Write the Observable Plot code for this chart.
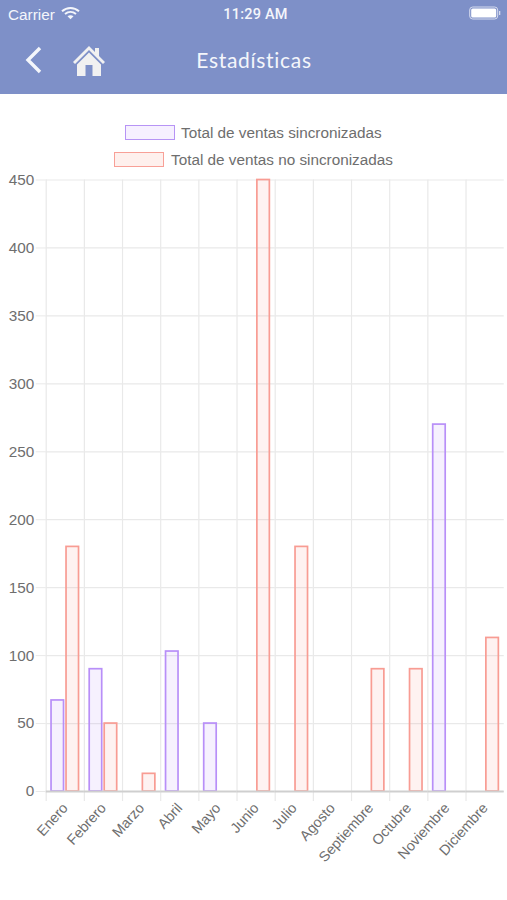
<!DOCTYPE html>
<html lang="es">
<head>
<meta charset="utf-8">
<title>Estadísticas</title>
<script src="https://cdn.jsdelivr.net/npm/d3@7"></script>
<script src="https://cdn.jsdelivr.net/npm/@observablehq/plot@0.6"></script>
<style>
html,body{margin:0;padding:0;background:#fff;}
body{position:relative;width:507px;height:900px;overflow:hidden;font-family:"Liberation Sans",sans-serif;}
#bar{position:absolute;left:0;top:0;width:507px;height:94px;background:#7e90c8;color:#f4f6fb;}
#bar span,#bar svg{position:absolute;}
.carrier{left:8px;top:6px;font-size:15.3px;}
.time{left:0;width:511px;text-align:center;top:6px;font-size:14.5px;font-family:Roboto,sans-serif;font-weight:500;letter-spacing:.2px;}
.titulo{left:0;width:508px;text-align:center;top:47px;font-family:Lato,sans-serif;font-size:21px;letter-spacing:.7px;}
.lg{position:absolute;font-size:15.3px;color:#6e6e6e;white-space:nowrap;line-height:16px;}
.lg i{position:absolute;left:0;top:0;width:47.5px;height:13px;border:1.8px solid;}
.lg b{position:absolute;top:0;font-weight:normal;}
#chart{position:absolute;left:0;top:170px;}
#chart svg{display:block;}
</style>
</head>
<body>
<div id="bar">
  <span class="carrier">Carrier</span>
  <svg style="left:61px;top:6px" width="19" height="14" viewBox="0 0 19 14"><path d="M1 5.2C6 .8 13 .8 18 5.2M4 8C7.3 5.3 11.700 5.300 15 8" fill="none" stroke="#f4f6fb" stroke-width="2"/><path d="M6.500 10.200C8.300 8.900 10.700 8.900 12.500 10.200L9.500 13.200Z" fill="#f4f6fb"/></svg>
  <span class="time">11:29 AM</span>
  <svg style="left:469px;top:6px" width="32" height="15" viewBox="0 0 32 15"><rect x=".7" y="1" width="28" height="12" rx="3" fill="none" stroke="#d5dbee" stroke-width="1"/><rect x="2.200" y="2.500" width="25" height="9" rx="1.500" fill="#fff"/><rect x="30" y="5" width="1.300" height="4" fill="#d5dbee"/></svg>
  <svg style="left:22px;top:44px" width="24" height="32" viewBox="0 0 24 32"><path d="M18 4L6 16L18 28" fill="none" stroke="#f4f6fb" stroke-width="3.400"/></svg>
  <svg style="left:72px;top:44px" width="34" height="33" viewBox="0 0 34 33"><path d="M17 2L1 18L3 20L17 6L31 20L33 18L27 12V4H23V8Z" fill="#f1f1f1"/><path d="M5 20.500L17 8.500L29 20.500V32H20.500V21H13.500V32H5Z" fill="#f1f1f1"/></svg>
  <span class="titulo">Estadísticas</span>
</div>
<div class="lg" style="left:125px;top:125px"><i style="border-color:#b794f5;background:#f6f0ff"></i><b style="left:56px">Total de ventas sincronizadas</b></div>
<div class="lg" style="left:114px;top:152px"><i style="border-color:#f8a097;background:#fef0ed"></i><b style="left:57px">Total de ventas no sincronizadas</b></div>
<div id="chart"></div>
<script>
const meses = ["Enero","Febrero","Marzo","Abril","Mayo","Junio","Julio","Agosto","Septiembre","Octubre","Noviembre","Diciembre"];
const sincronizadas = [67,90,0,103,50,0,0,0,0,0,270,0];
const noSincronizadas = [180,50,13,0,0,450,180,0,90,90,0,113];
const series = ["Total de ventas sincronizadas","Total de ventas no sincronizadas"];
const colores = ["#b88ff8","#f89c93"];
const yTicks = [0,50,100,150,200,250,300,350,400,450];

const filas = meses.flatMap((mes,i)=>[
  {mes, serie:series[0], valor:sincronizadas[i]},
  {mes, serie:series[1], valor:noSincronizadas[i]}
]).filter(d=>d.valor>0);

const GRID="#e9e9e9";
const chart = Plot.plot({
  width:507,
  height:730,
  marginLeft:45.7,
  marginRight:3.3,
  marginTop:9.5,
  marginBottom:109,
  style:{background:"transparent",fontFamily:"'Liberation Sans',sans-serif",fontSize:"15.3px",color:"#6e6e6e",overflow:"visible"},
  fx:{domain:meses,paddingInner:0,paddingOuter:0,round:false,label:null,axis:null},
  x:{domain:series,paddingInner:0.167,paddingOuter:0.356,round:false,label:null,axis:null},
  y:{domain:[0,450],label:null,axis:null},
  color:{domain:series,range:colores},
  marks:[
    Plot.ruleY(yTicks,{stroke:GRID,strokeWidth:1.2}),
    Plot.ruleX(meses,{fx:d=>d,x:()=>series[0],dx:-11.59,y1:450,y2:0,insetBottom:-10,stroke:GRID,strokeWidth:1.2}),
    Plot.barY(filas,{fx:"mes",x:"serie",y:"valor",fill:"serie",fillOpacity:0.13,stroke:"serie",strokeWidth:1.7}),
    Plot.ruleY([0],{stroke:"#cfcfcf",strokeWidth:2}),
    Plot.axisY({ticks:yTicks,anchor:"left",tickSize:10,tickPadding:2,stroke:GRID,fill:"#6e6e6e",label:null,tickFormat:d=>d}),
    Plot.axisFx({anchor:"bottom",tickSize:0,tickRotate:-48,tickPadding:14,fontSize:14.3,fill:"#6e6e6e",label:null,textAnchor:"end",dx:0})
  ]
});
document.getElementById("chart").append(chart);
</script>
</body>
</html>
